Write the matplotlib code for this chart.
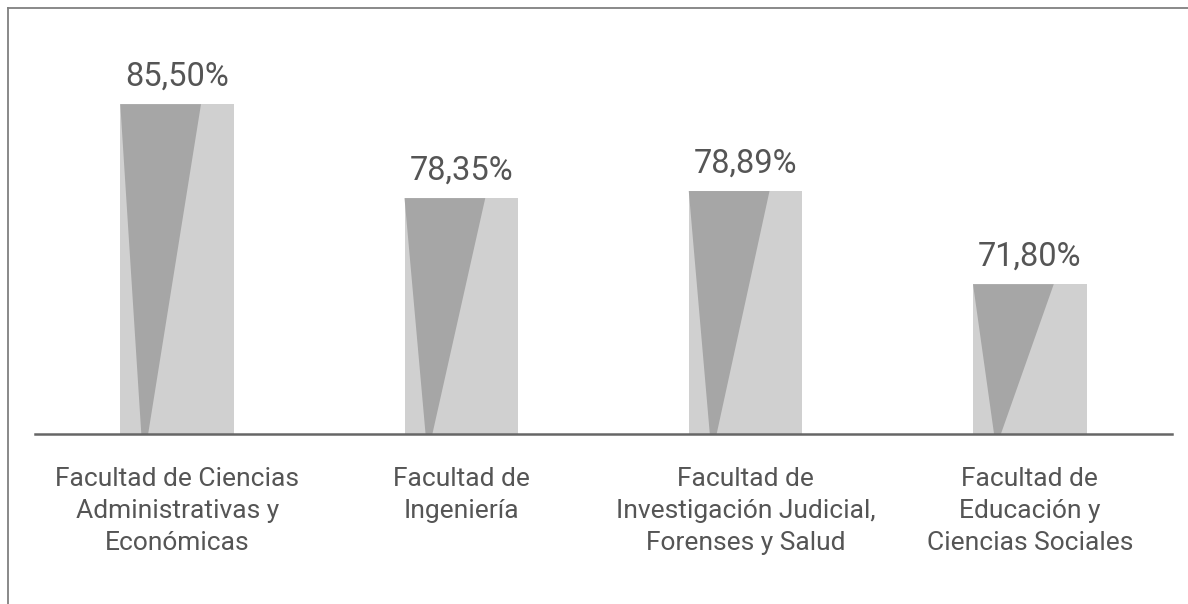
import matplotlib
matplotlib.use("Agg")
import matplotlib.pyplot as plt
from matplotlib.lines import Line2D

plt.rcParams["font.family"] = ["Roboto", "DejaVu Sans"]

categories = [
    "Facultad de Ciencias\nAdministrativas y\nEconómicas",
    "Facultad de\nIngeniería",
    "Facultad de\nInvestigación Judicial,\nForenses y Salud",
    "Facultad de\nEducación y\nCiencias Sociales",
]
values = [85.50, 78.35, 78.89, 71.80]
labels = ["85,50%", "78,35%", "78,89%", "71,80%"]

W, H = 1188, 604
fig = plt.figure(figsize=(W / 100, H / 100), dpi=100)

# axes placed so the baseline sits at y=434 px, spanning x 35..1172 px
ax = fig.add_axes([35 / W, (H - 434) / H, 1137 / W, 426 / H])
ymin = 60.4
ax.set_xlim(-0.5, 3.5)
ax.set_ylim(ymin, ymin + 426 / 13.14)
ax.axis("off")

text_color = "#555555"
bw = 0.4
for i, v in enumerate(values):
    left = i - bw / 2
    ax.bar(i, v - ymin, bottom=ymin, width=bw, color="#d0d0d0", lw=0, zorder=1)
    # darker wedge inside the bar
    ax.fill([left, left + 0.71 * bw, left + 0.245 * bw, left + 0.185 * bw],
            [v, v, ymin, ymin], color="#a6a6a6", lw=0, zorder=2)
    ax.annotate(labels[i], (i, v), xytext=(0, 13.5), textcoords="offset points",
                ha="center", va="baseline", fontsize=23.5, color=text_color)
    ax.annotate(categories[i], (i, ymin), xytext=(0, -24), textcoords="offset points",
                ha="center", va="top", fontsize=19, color=text_color,
                linespacing=1.42)

ax.axhline(ymin, color="#666666", lw=1.8, zorder=3, clip_on=False)

# frame lines (top and left) of the picture
fig.add_artist(Line2D([8 / W, 1], [1 - 8 / H, 1 - 8 / H], color="#808080", lw=1.3))
fig.add_artist(Line2D([8 / W, 8 / W], [0, 1 - 8 / H], color="#808080", lw=1.3))

fig.savefig("out.png", dpi=100)
